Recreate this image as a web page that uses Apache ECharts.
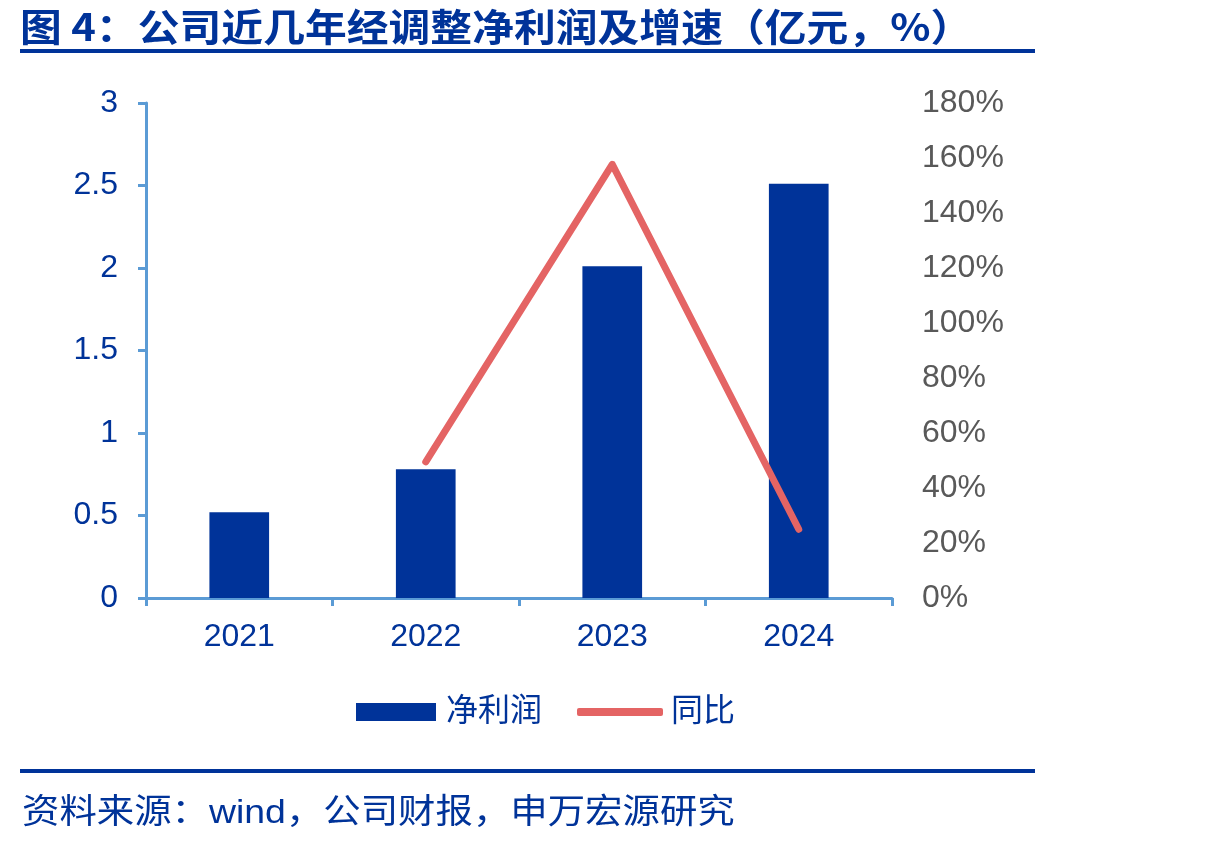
<!DOCTYPE html>
<html>
<head>
<meta charset="utf-8">
<script src="https://cdn.jsdelivr.net/npm/echarts@6/dist/echarts.min.js"></script>
<style>html,body{margin:0;padding:0;background:#fff}#c{width:1206px;height:848px}</style>
</head>
<body>
<div id="c"></div>
<script>
var categories = ['2021', '2022', '2023', '2024'];
var netProfit = [0.52, 0.78, 2.01, 2.51];
var yoy = [null, 49.5, 157.7, 25];
var leftTicks = {min: 0, max: 3, interval: 0.5};
var rightTicks = {min: 0, max: 180, interval: 20};
var titleText = '图 4：公司近几年经调整净利润及增速（亿元，%）';
var sourceText = '资料来源：wind，公司财报，申万宏源研究';

var BLUE = '#003399';
var AXIS = '#5b9bd5';
var RED = '#e46464';
var FONT = '"Liberation Sans", Arial, "Noto Sans CJK SC", sans-serif';
var CJK = '"Liberation Sans", "Noto Sans CJK SC", sans-serif';

var chart = echarts.init(document.getElementById('c'), null, {renderer: 'canvas'});
chart.setOption({
  backgroundColor: '#fff',
  animation: false,
  textStyle: {fontFamily: FONT},
  grid: {left: 146, right: 314, top: 103, bottom: 250, containLabel: false},
  legend: [{
    data: [{name: '净利润', icon: 'rect'}],
    left: 351, top: 691,
    itemWidth: 80, itemHeight: 18,
    textStyle: {fontSize: 32, color: BLUE, fontFamily: CJK, padding: [0, 0, 0, 5]}
  }, {
    data: [{name: '同比', icon: 'roundRect', itemStyle: {color: RED}}],
    left: 572, top: 691,
    itemWidth: 86, itemHeight: 8,
    textStyle: {fontSize: 32, color: BLUE, fontFamily: CJK, padding: [0, 0, 0, 3]}
  }],
  xAxis: {
    type: 'category',
    data: categories,
    axisLine: {lineStyle: {color: AXIS, width: 3}},
    axisTick: {show: true, length: 8, lineStyle: {color: AXIS, width: 3}},
    axisLabel: {fontSize: 32, color: BLUE, margin: 23}
  },
  yAxis: [{
    type: 'value',
    min: leftTicks.min, max: leftTicks.max, interval: leftTicks.interval,
    axisLine: {show: true, lineStyle: {color: AXIS, width: 3}},
    axisTick: {show: true, length: 8, lineStyle: {color: AXIS, width: 3}},
    splitLine: {show: false},
    axisLabel: {fontSize: 32, color: BLUE, margin: 28}
  }, {
    type: 'value',
    min: rightTicks.min, max: rightTicks.max, interval: rightTicks.interval,
    axisLine: {show: false},
    axisTick: {show: false},
    splitLine: {show: false},
    axisLabel: {fontSize: 32, color: '#595959', margin: 30, formatter: '{value}%'}
  }],
  series: [{
    name: '净利润',
    type: 'bar',
    data: netProfit,
    barWidth: '32%',
    itemStyle: {color: BLUE}
  }, {
    name: '同比',
    type: 'line',
    yAxisIndex: 1,
    data: yoy,
    symbol: 'none',
    showSymbol: false,
    lineStyle: {color: RED, width: 7, cap: 'round', join: 'round'},
    itemStyle: {color: RED}
  }],
  graphic: [{
    type: 'text', x: 20, y: 8, scaleX: 1.1,
    style: {text: titleText, fontSize: 38, fontWeight: 'bold', fill: BLUE, fontFamily: '"Noto Sans CJK SC", sans-serif'}
  }, {
    type: 'rect', shape: {x: 20, y: 49, width: 1015, height: 4}, style: {fill: BLUE}
  }, {
    type: 'rect', shape: {x: 20, y: 769, width: 1015, height: 4}, style: {fill: BLUE}
  }, {
    type: 'text', x: 22, y: 797, scaleX: 1.1,
    style: {text: sourceText, fontSize: 34, fill: BLUE, fontFamily: CJK}
  }]
});
</script>
</body>
</html>
